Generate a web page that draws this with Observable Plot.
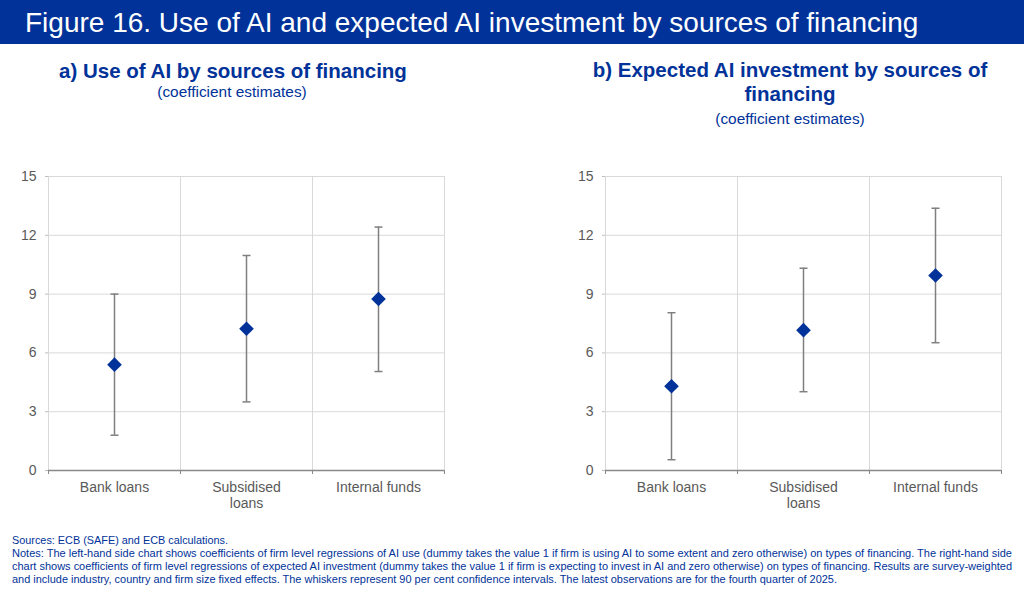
<!DOCTYPE html>
<html>
<head>
<meta charset="utf-8">
<script src="https://cdn.jsdelivr.net/npm/d3@7"></script>
<script src="https://cdn.jsdelivr.net/npm/@observablehq/plot@0.6"></script>
<style>
  html, body { margin: 0; padding: 0; background: #fff; }
  #root { position: relative; width: 1024px; height: 599px; overflow: hidden; background: #fff;
          font-family: "Liberation Sans", Arial, sans-serif; }
  .bar { position: absolute; left: 0; top: 0; width: 1024px; height: 44px; background: #003299; }
  .bar span { position: absolute; left: 25px; top: 1px; line-height: 44px; font-size: 28px; color: #fff; white-space: nowrap; }
  .sub { position: absolute; width: 440px; text-align: center; color: #003299; white-space: nowrap; }
  .sub .h { font-weight: bold; font-size: 20.5px; }
  .chart { position: absolute; top: 150px; }
  .note { position: absolute; left: 12px; font-size: 10.5px; color: #003299; white-space: nowrap; transform-origin: 0 0; line-height: 13px; }
</style>
</head>
<body>
<div id="root">
  <div class="bar"><span>Figure 16. Use of AI and expected AI investment by sources of financing</span></div>
  <div class="sub" style="left:13px;top:59px;"><div class="h" style="line-height:24px;">a) Use of AI by sources of financing</div></div>
  <div class="sub" style="left:12px;top:83px;font-size:15.4px;line-height:18px;">(coefficient estimates)</div>
  <div class="sub" style="left:570px;top:58px;"><div class="h" style="line-height:24px;">b) Expected AI investment by sources of<br>financing</div></div>
  <div class="sub" style="left:570px;top:110px;font-size:15.4px;line-height:18px;">(coefficient estimates)</div>
  <div id="chartA" class="chart" style="left:0px;"></div>
  <div id="chartB" class="chart" style="left:557px;"></div>
  <div class="note" data-w="216" style="top:534px;">Sources: ECB (SAFE) and ECB calculations.</div>
  <div class="note" data-w="1000" style="top:547px;">Notes: The left-hand side chart shows coefficients of firm level regressions of AI use (dummy takes the value 1 if firm is using AI to some extent and zero otherwise) on types of financing. The right-hand side</div>
  <div class="note" data-w="1000" style="top:560px;">chart shows coefficients of firm level regressions of expected AI investment (dummy takes the value 1 if firm is expecting to invest in AI and zero otherwise) on types of financing. Results are survey-weighted</div>
  <div class="note" data-w="825" style="top:573px;">and include industry, country and firm size fixed effects. The whiskers represent 90 per cent confidence intervals. The latest observations are for the fourth quarter of 2025.</div>
</div>
<script>
// ---- Data ----
const categories = ["Bank loans", "Subsidised loans", "Internal funds"];
const categoryLabels = ["Bank loans", "Subsidised\nloans", "Internal funds"];

// a) Use of AI
const useCoef = [5.4, 7.23, 8.75];
const useLow  = [1.8, 3.5, 5.05];
const useHigh = [9.0, 10.97, 12.42];

// b) Expected AI investment
const invCoef = [4.3, 7.16, 9.95];
const invLow  = [0.55, 4.02, 6.52];
const invHigh = [8.05, 10.32, 13.38];

const yTicks = [0, 3, 6, 9, 12, 15];

// ---- Helpers ----
const centers = categories.map((c, i) => i + 0.5);
const bounds = d3.range(categories.length + 1);
const capSymbol = {
  draw(context, size) {
    const w = Math.sqrt(size / Math.PI);
    context.moveTo(-w, 0);
    context.lineTo(w, 0);
  }
};

function rows(coef, low, high) {
  return categories.map((c, i) => ({ category: c, pos: i + 0.5, coef: coef[i], low: low[i], high: high[i] }));
}

function chart(data) {
  return Plot.plot({
    width: 460,
    height: 365,
    marginLeft: 48,
    marginRight: 16,
    marginTop: 26,
    marginBottom: 45,
    style: { fontFamily: "'Liberation Sans', Arial, sans-serif", fontSize: "14px", color: "#595959", background: "#fff" },
    x: { type: "linear", domain: [0, categories.length] },
    y: { domain: [0, 15] },
    marks: [
      Plot.gridY(yTicks, { stroke: "#d9d9d9", strokeOpacity: 1 }),
      Plot.gridX(bounds, { stroke: "#d9d9d9", strokeOpacity: 1 }),
      Plot.axisY(yTicks, { tickSize: 3, tickPadding: 9, stroke: "#bfbfbf", fill: "#595959", fontSize: 14, label: null }),
      Plot.axisX(centers, { tickSize: 0, tickPadding: 10, lineHeight: 1.15, fill: "#595959", fontSize: 14, label: null,
        tickFormat: v => categoryLabels[Math.round(v - 0.5)] }),
      Plot.axisX(bounds, { tickSize: 4, tickFormat: () => "", stroke: "#898989", label: null }),
      Plot.ruleY([0], { stroke: "#898989", strokeWidth: 1.5 }),
      Plot.ruleX(data, { x: "pos", y1: "low", y2: "high", stroke: "#7f7f7f", strokeWidth: 1.5 }),
      Plot.dot(data, { x: "pos", y: "low", symbol: capSymbol, r: 4, stroke: "#7f7f7f", fill: "none", strokeWidth: 1.5 }),
      Plot.dot(data, { x: "pos", y: "high", symbol: capSymbol, r: 4, stroke: "#7f7f7f", fill: "none", strokeWidth: 1.5 }),
      Plot.dot(data, { x: "pos", y: "coef", symbol: "diamond2", r: 6.6, fill: "#003299", stroke: "none" })
    ]
  });
}

document.getElementById("chartA").appendChild(chart(rows(useCoef, useLow, useHigh)));
document.getElementById("chartB").appendChild(chart(rows(invCoef, invLow, invHigh)));

function fitNotes() {
  document.querySelectorAll(".note").forEach(el => {
    el.style.transform = "none";
    const w = el.getBoundingClientRect().width;
    const target = +el.dataset.w;
    if (w > 0) el.style.transform = `scaleX(${target / w})`;
  });
}
fitNotes();
if (document.fonts && document.fonts.ready) document.fonts.ready.then(fitNotes);
</script>
</body>
</html>
